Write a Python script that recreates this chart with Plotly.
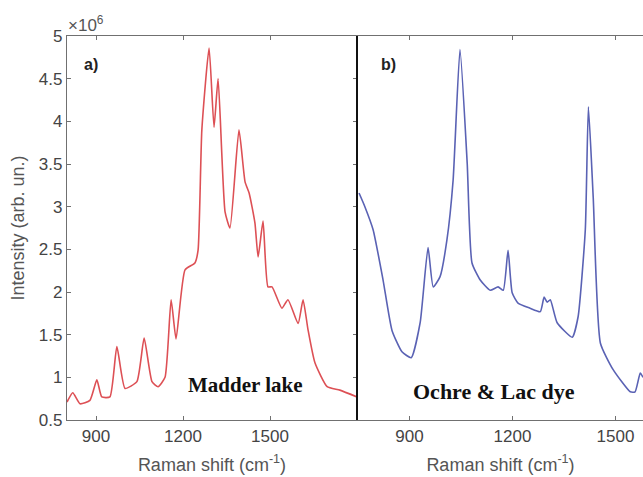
import plotly.graph_objects as go

# Panel a: Madder lake (Raman shift cm^-1, intensity x1e6)
madder_x = [800, 820, 845, 879, 903, 920, 948, 972, 1000, 1041, 1066, 1093, 1114, 1138,
            1159, 1176, 1207, 1241, 1252, 1265, 1290, 1307, 1321, 1345, 1362, 1393, 1414,
            1428, 1448, 1459, 1476, 1493, 1507, 1541, 1562, 1597, 1614, 1631, 1655, 1697,
            1741, 1800]
madder_y = [0.71, 0.82, 0.69, 0.73, 0.97, 0.77, 0.77, 1.36, 0.87, 0.95, 1.46, 0.95, 0.89, 1.0,
            1.91, 1.45, 2.26, 2.34, 2.49, 3.9, 4.86, 3.93, 4.50, 2.94, 2.75, 3.90, 3.29,
            3.16, 2.81, 2.41, 2.83, 2.06, 2.06, 1.81, 1.91, 1.63, 1.91, 1.56, 1.17, 0.89,
            0.85, 0.77]

# Panel b: Ochre & Lac dye
ochre_x = [753, 770, 794, 823, 849, 878, 905, 931, 954, 969, 989, 1009, 1027, 1047, 1068,
           1082, 1106, 1135, 1158, 1173, 1187, 1199, 1216, 1251, 1281, 1292, 1301, 1310,
           1330, 1374, 1391, 1412, 1421, 1435, 1456, 1493, 1543, 1557, 1572, 1580]
ochre_y = [3.16, 3.0, 2.73, 2.14, 1.55, 1.30, 1.23, 1.64, 2.52, 2.06, 2.18, 2.61, 3.31, 4.84,
           3.51, 2.34, 2.14, 2.02, 2.06, 2.02, 2.49, 1.99, 1.87, 1.81, 1.77, 1.94, 1.88, 1.91,
           1.64, 1.47, 1.71, 2.73, 4.17, 3.11, 1.40, 1.09, 0.83, 0.83, 1.05, 1.0]

x_ticks = [900, 1200, 1500]
y_ticks = [0.5, 1, 1.5, 2, 2.5, 3, 3.5, 4, 4.5, 5]
y_tick_text = ["0.5", "1", "1.5", "2", "2.5", "3", "3.5", "4", "4.5", "5"]

W, H = 643, 477
grey = "#707070"
font_sans = "Liberation Sans, Arial, sans-serif"
serif = "Liberation Serif, Times New Roman, serif"

fig = go.Figure()
fig.add_trace(go.Scatter(x=madder_x, y=madder_y, mode="lines", xaxis="x", yaxis="y",
                         line=dict(color="#dd5055", width=1.6, shape="spline", smoothing=0.5),
                         showlegend=False))
fig.add_trace(go.Scatter(x=ochre_x, y=ochre_y, mode="lines", xaxis="x2", yaxis="y2",
                         line=dict(color="#5a62b4", width=1.6, shape="spline", smoothing=0.5),
                         showlegend=False))

axis_common = dict(showgrid=False, zeroline=False, automargin=False, ticks="inside",
                   ticklen=4, tickcolor=grey, linecolor=grey, linewidth=1.3,
                   tickfont=dict(family=font_sans, size=17, color="#444444"))
title_font = dict(family=font_sans, size=18, color="#555555")

fig.update_layout(
    width=W, height=H,
    margin=dict(l=0, r=0, t=36, b=57),
    paper_bgcolor="white", plot_bgcolor="white",
    xaxis=dict(domain=[67 / W, 357 / W], range=[800, 1800], tickvals=x_ticks,
               showline=True, mirror="ticks", anchor="y",
               title=dict(text="Raman shift (cm<sup>-1</sup>)", standoff=13, font=title_font),
               **axis_common),
    yaxis=dict(domain=[0, 1], range=[0.5, 5], tickvals=y_ticks, ticktext=y_tick_text,
               showline=True, mirror="ticks", anchor="x",
               title=dict(text="Intensity (arb. un.)", standoff=9, font=title_font),
               **axis_common),
    xaxis2=dict(domain=[358 / W, 1.0], range=[750, 1580], tickvals=x_ticks,
                showline=True, mirror="ticks", anchor="y2",
                title=dict(text="Raman shift (cm<sup>-1</sup>)", standoff=13, font=title_font),
                **axis_common),
    yaxis2=dict(domain=[0, 1], range=[0.5, 5], anchor="x2", showgrid=False, zeroline=False,
                showticklabels=False, ticks="", showline=True, linecolor="#111111",
                linewidth=2, automargin=False),
)

annos = [
    dict(text="×10<sup>6</sup>", x=66 / W, y=1.0, xref="paper", yref="paper",
         xanchor="left", yanchor="bottom", yshift=-1, showarrow=False,
         font=dict(family=font_sans, size=17, color="#555555")),
    dict(text="<b>a)</b>", x=0.05, y=0.925, xref="x domain", yref="y domain",
         xanchor="left", yanchor="middle", showarrow=False,
         font=dict(family=font_sans, size=16, color="#222222")),
    dict(text="<b>b)</b>", x=0.072, y=0.925, xref="x2 domain", yref="y2 domain",
         xanchor="left", yanchor="middle", showarrow=False,
         font=dict(family=font_sans, size=16, color="#222222")),
    dict(text="<b>Madder lake</b>", x=1414, y=0.91, xref="x", yref="y",
         xanchor="center", yanchor="middle", showarrow=False,
         font=dict(family=serif, size=21, color="#111111")),
    dict(text="<b>Ochre &amp; Lac dye</b>", x=1146, y=0.83, xref="x2", yref="y2",
         xanchor="center", yanchor="middle", showarrow=False,
         font=dict(family=serif, size=22, color="#111111")),
]
fig.update_layout(annotations=annos)

fig.write_html("out.html")
